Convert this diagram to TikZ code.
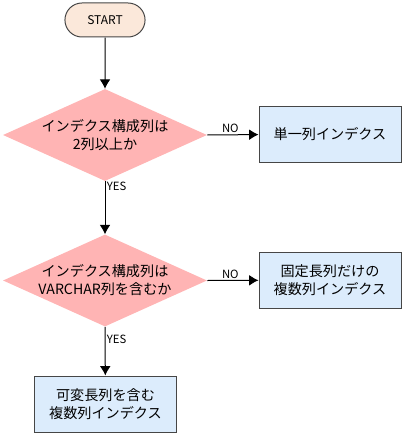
\documentclass[tikz,border=0pt]{standalone}
\usepackage{fontspec}
\setmainfont{Noto Sans CJK JP}
\usepackage{tikz}
\usetikzlibrary{shapes.geometric, shapes.misc, arrows.meta}

\definecolor{startfill}{RGB}{251,232,218}
\definecolor{askfill}{RGB}{255,180,180}
\definecolor{boxfill}{RGB}{220,236,252}
\definecolor{edge}{RGB}{70,70,70}

\tikzset{
	startnode/.style={rounded rectangle, draw=edge, fill=startfill, line width=0.75pt, minimum width=66.75pt, minimum height=25.5pt, font=\small},
	asknode/.style={diamond, aspect=2.2, draw=none, fill=askfill, inner sep=0pt, minimum width=153pt, minimum height=69pt, align=center, font=\fontsize{10.6}{13.5}\selectfont},
	resultnode/.style={rectangle, draw=edge, fill=boxfill, line width=0.75pt, minimum width=106.5pt, minimum height=42pt, align=center, font=\fontsize{10.6}{13.5}\selectfont},
	flow/.style={-{Latex[length=7pt,width=8pt]}, line width=0.75pt},
	answer/.style={font=\fontsize{8.5}{10}\selectfont, inner sep=1pt}
}

\begin{document}
\begin{tikzpicture}[x=0.75pt, y=-0.75pt]
	\useasboundingbox (0,0) rectangle (404,435);
	\node[startnode] (start) at (105,20) {START};
	\node[asknode] (q1) at (105,135) {インデクス構成列は\\2列以上か};
	\node[asknode] (q2) at (105,280.5) {インデクス構成列は\\VARCHAR列を含むか};
	\node[resultnode] (single) at (330,134) {単一列インデクス};
	\node[resultnode] (fixed) at (330,280) {固定長列だけの\\複数列インデクス};
	\node[resultnode] (varlen) at (105.5,404) {可変長列を含む\\複数列インデクス};

	\draw[flow] (start) -- (q1.north);
	\draw[flow] (q1.south) -- node[answer, pos=0.1, anchor=west] {YES} (q2.north);
	\draw[flow] (q1.east) -- node[answer, pos=0.45, anchor=south] {NO} (single);
	\draw[flow] (q2.east) -- node[answer, pos=0.45, anchor=south] {NO} (fixed);
	\draw[flow] (q2.south) -- node[answer, pos=0.25, anchor=west] {YES} (varlen);
\end{tikzpicture}
\end{document}
